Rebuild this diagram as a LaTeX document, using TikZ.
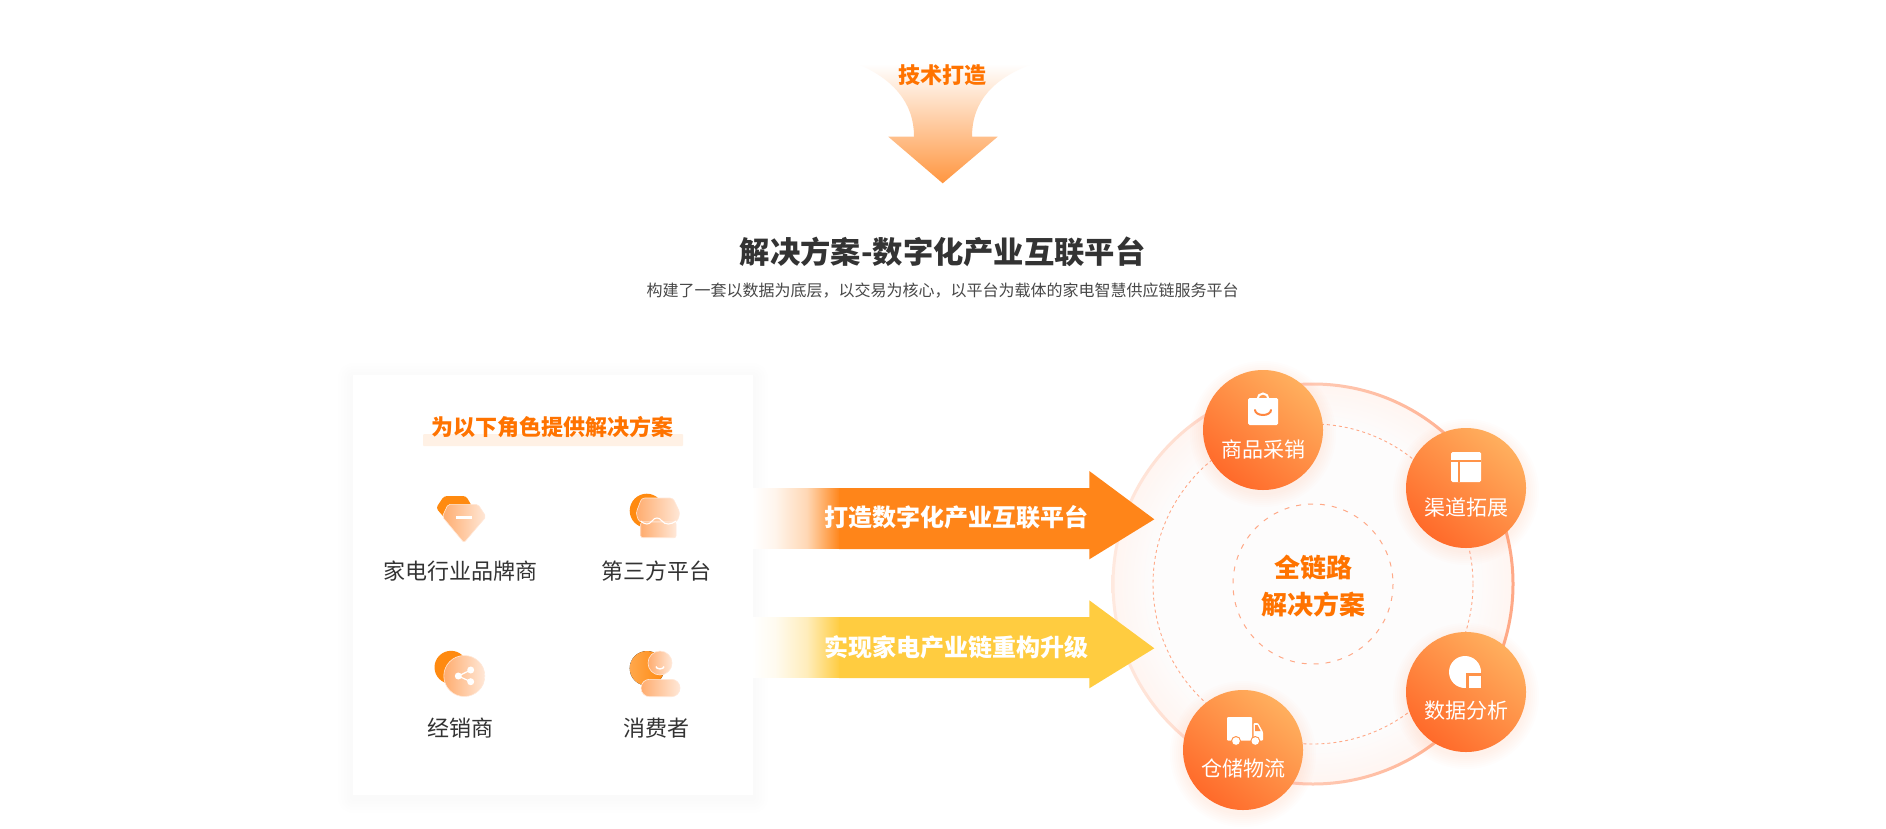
\documentclass[tikz,border=0pt]{standalone}
\usepackage{fontspec}
\setmainfont{Noto Sans CJK SC}
\definecolor{brand}{HTML}{FF7300}
\definecolor{inktext}{HTML}{333333}
\definecolor{arrowtop}{HTML}{FF9640}
\definecolor{arrowa}{HTML}{FF8519}
\definecolor{arrowb}{HTML}{FFCC40}
\definecolor{ringc}{HTML}{FFA987}
\definecolor{ringpale}{HTML}{FFE9DF}
\definecolor{glowin}{HTML}{FDFCFC}
\definecolor{glowout}{HTML}{FFF5F1}
\definecolor{satlight}{HTML}{FFAF5E}
\definecolor{satdark}{HTML}{FF6A2A}
\definecolor{iconorange}{HTML}{FF8A10}
\definecolor{glassa}{HTML}{FFAC6E}
\definecolor{glassb}{HTML}{FFE8D8}
\colorlet{fadealow}{arrowa!8}
\colorlet{fadeamid}{arrowa!32}
\colorlet{fadeblow}{arrowb!8}
\colorlet{fadebmid}{arrowb!35}
\pgfdeclareradialshading{ringglow}{\pgfpoint{0bp}{0bp}}{color(0bp)=(glowin); color(20bp)=(glowin); color(25bp)=(glowout); color(50bp)=(glowout)}
\pgfdeclarehorizontalshading{fadea}{100bp}{color(0bp)=(white); color(25bp)=(white); color(38bp)=(fadealow); color(56bp)=(fadeamid); color(75bp)=(arrowa); color(100bp)=(arrowa)}
\pgfdeclarehorizontalshading{fadeb}{100bp}{color(0bp)=(white); color(25bp)=(white); color(38bp)=(fadeblow); color(56bp)=(fadebmid); color(75bp)=(arrowb); color(100bp)=(arrowb)}
\newcommand{\px}[1]{\fontsize{#1}{#1}\selectfont}
\tikzset{
  rolelabel/.style={text=inktext,font=\px{22}},
  satlabel/.style={text=white,font=\px{21}},
  bandlabel/.style={text=white,font=\px{24}\bfseries},
  headlabel/.style={text=brand,font=\px{22}\bfseries},
  centrelabel/.style={text=brand,font=\px{26}\bfseries},
  glass/.style={left color=glassa,right color=glassb,draw=glassb,line width=0.6pt},
  satdisc/.style={top color=satlight,bottom color=satdark,shading angle=-40},
}
\begin{document}
\begin{tikzpicture}[x=1pt,y=-1pt]
  \useasboundingbox (0,0) rectangle (1886,828);
  \fill[white] (0,0) rectangle (1886,828);

  \shade[top color=white,middle color=arrowtop!22,bottom color=arrowtop] (858,64) .. controls (890,78) and (914,100) .. (914,136.7)
    -- (888.3,136.7) -- (942.7,183.3) -- (997.7,136.7) -- (972,136.7) .. controls (972,100) and (995,78) .. (1032,64) -- cycle;
  \node[headlabel] (tech) at (942.7,75.5) {技术打造};
  \node[text=inktext,font=\px{30.3}\bfseries] (title) at (942.7,252) {解决方案-数字化产业互联平台};
  \node[text=inktext!90,font=\px{16}] (subtitle) at (942.7,291) {构建了一套以数据为底层，以交易为核心，以平台为载体的家电智慧供应链服务平台};

  \foreach \g in {3,6,...,15}
    \fill[black,opacity=0.004,rounded corners=\g pt] (353-\g,375-\g+3) rectangle (753+\g,795+\g+3);
  \fill[white] (353,375) rectangle (753,795);
  \fill[brand!10,rounded corners=1pt] (423,434) rectangle (683,446);
  \node[headlabel] (rolehead) at (552,427.5) {为以下角色提供解决方案};

  \fill[iconorange,rounded corners=3pt] (444,496) -- (466,496) -- (473,508) -- (455,530) -- (436,508) -- cycle;
  \draw[glass,rounded corners=2pt] (448,504.3) -- (478,504.3) -- (486,516.7) -- (464,542.7) -- (442.3,516.7) -- cycle;
  \fill[white] (456,516) rectangle (472,519);
  \node[rolelabel] (brandrole) at (460.7,571.5) {家电行业品牌商};

  \fill[iconorange] (646.7,510.7) circle[radius=17];
  \draw[glass,rounded corners=3pt] (641.7,498) -- (673,498) -- (680,513) -- (677,522) -- (639,522) -- (636,513) -- cycle;
  \draw[glass,rounded corners=2pt] (640.7,522) rectangle (676,537.7);
  \draw[white,line width=1.1pt] (640.7,521) .. controls (645,525) and (649,525) .. (652,521) .. controls (655,517) and (659,517) .. (662,521) .. controls (665,525) and (671,525) .. (676,521);
  \node[rolelabel] (platrole) at (656.7,571.5) {第三方平台};

  \fill[iconorange] (451,667.3) circle[radius=16.5];
  \draw[glass] (464.3,676) circle[radius=20.5];
  \draw[white,line width=1.2pt] (470.7,670) -- (458.3,676) -- (470.7,681.7);
  \foreach \sx/\sy in {458.3/676,470.7/670,470.7/681.7}
    \fill[white] (\sx,\sy) circle[radius=3.5];
  \node[rolelabel] (dealrole) at (460.7,728.5) {经销商};

  \fill[left color=iconorange!75!white,right color=iconorange] (647,668.3) circle[radius=17.3];
  \draw[glass] (660,663) circle[radius=12];
  \draw[white,line width=1.4pt] (656,666.5) arc[start angle=180,end angle=0,radius=4,y radius=2.4];
  \draw[glass,rounded corners=8.6pt] (641,679.3) rectangle (680,696.7);
  \node[rolelabel] (userrole) at (656.7,728.5) {消费者};

  \shade[shading=ringglow] (1313,584) circle[radius=200];
  \shade[left color=ringpale,middle color=ringc,right color=ringc,even odd rule] (1313,584) circle[radius=201.5] (1313,584) circle[radius=198.5];
  \draw[ringc,line width=0.9pt,dash pattern=on 3pt off 3pt] (1313,584) circle[radius=160];
  \draw[ringc,line width=1pt,dash pattern=on 5pt off 7pt] (1313,584) circle[radius=80];
  \node[centrelabel] (centre1) at (1313,567.5) {全链路};
  \node[centrelabel] (centre2) at (1313,604.5) {解决方案};

  \shade[shading=fadea] (752,488.4) rectangle (840,548.4);
  \fill[arrowa] (839,488) -- (1089.3,488) -- (1089.3,471) -- (1154.3,519.3) -- (1089.3,559.3) -- (1089.3,549) -- (839,549) -- cycle;
  \node[bandlabel] (banda) at (956.3,517.5) {打造数字化产业互联平台};

  \shade[shading=fadeb] (752,617.4) rectangle (840,677.4);
  \fill[arrowb] (839,617) -- (1089.3,617) -- (1089.3,600.3) -- (1154.3,648.3) -- (1089.3,688.3) -- (1089.3,678) -- (839,678) -- cycle;
  \node[bandlabel] (bandb) at (956.3,647) {实现家电产业链重构升级};

  \foreach \cx/\cy in {1263/430,1466/488,1466/692,1243/750} {
    \foreach \g in {61,63,...,73}
      \fill[satdark,opacity=0.012] (\cx,\cy+4) circle[radius=\g];
    \shade[satdisc] (\cx,\cy) circle[radius=60];
  }

  \fill[white,rounded corners=1.5pt] (1248,398) rectangle (1278,425);
  \draw[white,line width=2pt] (1257.5,399) arc[start angle=180,end angle=360,radius=5.5];
  \draw[satdark!60!satlight,line width=2pt,line cap=round] (1255,410) arc[start angle=180,end angle=0,radius=8,y radius=5];
  \node[satlabel] (sat1) at (1263,449.5) {商品采销};

  \fill[white,rounded corners=1.5pt] (1451,452) rectangle (1481,482);
  \draw[satdark!40!satlight,line width=1.6pt] (1451,461) -- (1481,461) (1459,461) -- (1459,482);
  \node[satlabel] (sat2) at (1466,507) {渠道拓展};

  \fill[white] (1465,672) circle[radius=16];
  \fill[satdark!40!satlight] (1466,673) rectangle (1482,689);
  \fill[white] (1469,676) rectangle (1481,688);
  \node[satlabel] (sat3) at (1466,711) {数据分析};

  \fill[white,rounded corners=1pt] (1227,717) rectangle (1252,740.7);
  \fill[white,rounded corners=1pt] (1253.5,723) -- (1258,723) -- (1263,732) -- (1263,740.7) -- (1253.5,740.7) -- cycle;
  \fill[satdark!40!satlight] (1255,725) -- (1257.5,725) -- (1260.5,731) -- (1255,731) -- cycle;
  \foreach \wx in {1236,1255.3} {
    \fill[satdark!40!satlight] (\wx,741) circle[radius=5];
    \fill[white] (\wx,741) circle[radius=3.8];
  }
  \node[satlabel] (sat4) at (1243,768.5) {仓储物流};
\end{tikzpicture}
\end{document}
